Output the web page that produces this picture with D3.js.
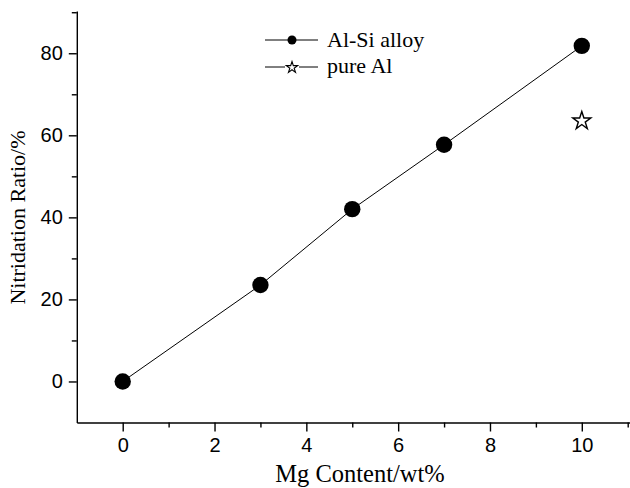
<!DOCTYPE html>
<html><head><meta charset="utf-8">
<script src="https://cdn.jsdelivr.net/npm/d3@7"></script>
<style>body{margin:0;background:#fff}svg{display:block}</style>
</head><body>
<svg id="c" width="630" height="488"></svg>
<script>
const mgContent = [0, 3, 5, 7, 10];
const alSiRatio = [0, 23.5, 42, 57.7, 81.8];
const pureAlX = [10];
const pureAlRatio = [63.5];
const xTicks = [0, 2, 4, 6, 8, 10];
const yTicks = [0, 20, 40, 60, 80];
const xMinor = [1, 3, 5, 7, 9, 11];
const yMinor = [10, 30, 50, 70, 90];
const seriesNames = ["Al-Si alloy", "pure Al"];

const svg = d3.select("#c");
const x = d3.scaleLinear().domain([-1, 11.05]).range([76.8, 630]);
const y = d3.scaleLinear().domain([-10, 90.3]).range([422.5, 11]);
const y0 = y(-10), x0 = x(-1);

const sans = "Liberation Sans, Arial, sans-serif";
const serif = "Liberation Serif, Times New Roman, serif";

// axes
svg.append("g").attr("transform", `translate(0,${y0})`)
  .call(d3.axisBottom(x).tickValues(xMinor).tickSize(5).tickFormat("").tickSizeOuter(0))
  .select(".domain").remove();
svg.append("g").attr("transform", `translate(0,${y0})`)
  .call(d3.axisBottom(x).tickValues(xTicks).tickSize(9).tickSizeOuter(0).tickPadding(6));
svg.append("g").attr("transform", `translate(${x0},0)`)
  .call(d3.axisLeft(y).tickValues(yMinor).tickSize(5).tickFormat("").tickSizeOuter(0))
  .select(".domain").remove();
svg.append("g").attr("transform", `translate(${x0},0)`)
  .call(d3.axisLeft(y).tickValues(yTicks).tickSize(8).tickSizeOuter(0).tickPadding(6));
svg.selectAll(".tick text").attr("font-family", sans)
  .attr("font-size", 20).attr("fill", "#000");
svg.selectAll(".domain, .tick line").attr("stroke", "#000").attr("stroke-width", 1.4);

// titles
svg.append("text").attr("x", 360).attr("y", 482).attr("text-anchor", "middle")
  .attr("font-family", serif).attr("font-size", 24.5)
  .text("Mg Content/wt%");
svg.append("text").attr("transform", "translate(25,217.5) rotate(-90)").attr("text-anchor", "middle")
  .attr("font-family", serif).attr("font-size", 22)
  .text("Nitridation Ratio/%");

// line + markers
const pts = mgContent.map((d, i) => [d, alSiRatio[i]]);
svg.append("path").datum(pts)
  .attr("d", d3.line().x(d => x(d[0])).y(d => y(d[1])))
  .attr("fill", "none").attr("stroke", "#000").attr("stroke-width", 1);
svg.selectAll("circle.pt").data(pts).enter().append("circle")
  .attr("cx", d => x(d[0])).attr("cy", d => y(d[1])).attr("r", 8.2).attr("fill", "#000");

const star = d3.symbol().type(d3.symbolStar).size(100);
svg.selectAll("path.star").data(pureAlX.map((d, i) => [d, pureAlRatio[i]])).enter().append("path")
  .attr("d", star).attr("transform", d => `translate(${x(d[0])},${y(d[1])})`)
  .attr("fill", "#fff").attr("stroke", "#000").attr("stroke-width", 1.4);

// legend
const lg = svg.append("g");
const rows = [40, 67];
const base = [46.7, 72.7];
rows.forEach((ry, i) => {
  lg.append("line").attr("x1", 265).attr("x2", 318).attr("y1", ry).attr("y2", ry)
    .attr("stroke", "#000").attr("stroke-width", 1);
  if (i === 0) {
    lg.append("circle").attr("cx", 292).attr("cy", ry).attr("r", 4.5).attr("fill", "#000");
  } else {
    lg.append("rect").attr("x", 285).attr("y", ry - 6).attr("width", 14).attr("height", 12).attr("fill", "#fff");
    lg.append("path").attr("d", d3.symbol().type(d3.symbolStar).size(40))
      .attr("transform", `translate(292,${ry + 0.5})`)
      .attr("fill", "#fff").attr("stroke", "#000").attr("stroke-width", 1.1);
  }
  lg.append("text").attr("x", 327).attr("y", base[i])
    .attr("font-family", serif).attr("font-size", 22)
    .text(seriesNames[i]);
});
</script>
</body></html>
